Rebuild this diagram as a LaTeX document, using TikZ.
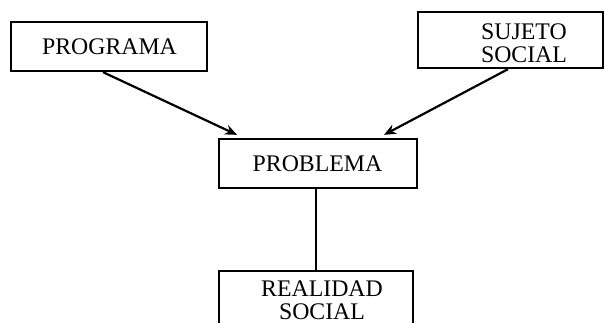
\documentclass[tikz,border=0pt]{standalone}
\usepackage{fontspec}
\setmainfont{Liberation Serif}
\usetikzlibrary{arrows.meta}
\begin{document}
\begin{tikzpicture}[x=1pt,y=-1pt,
  boxstyle/.style={draw=black,line width=2.3pt,inner sep=0pt,minimum width=#1},
  txt/.style={inner sep=0pt,anchor=base,align=center,font=\fontsize{23.8}{23}\selectfont},
  link/.style={line width=2.2pt},
  arr/.style={line width=2.2pt,-{Stealth[length=12pt,width=10pt]}}]
\useasboundingbox (0,0) rectangle (605,323);
\clip (0,0) rectangle (605,323);
\node[boxstyle=196pt,minimum height=49pt] (prog) at (109,46.5) {};
\node[boxstyle=185pt,minimum height=56pt] (suj) at (510.5,40) {};
\node[boxstyle=198pt,minimum height=49pt] (prob) at (318,163.5) {};
\node[boxstyle=194pt,minimum height=69pt] (real) at (316,305.5) {};
\node[txt] (progt) at (109.5,55) {PROGRAMA};
\node[txt] (sujt) at (524,63) {SUJETO\\SOCIAL};
\node[txt] (probt) at (317.5,172) {PROBLEMA};
\node[txt] (realt) at (322,319) {REALIDAD\\SOCIAL};
\draw[arr] ([xshift=-6pt]prog.south) -- ([xshift=-81pt,yshift=3pt]prob.north);
\draw[arr] ([xshift=-2.5pt]suj.south) -- ([xshift=66pt,yshift=3pt]prob.north);
\draw[link] ([xshift=-2pt]prob.south) -- (real.north);
\end{tikzpicture}
\end{document}
